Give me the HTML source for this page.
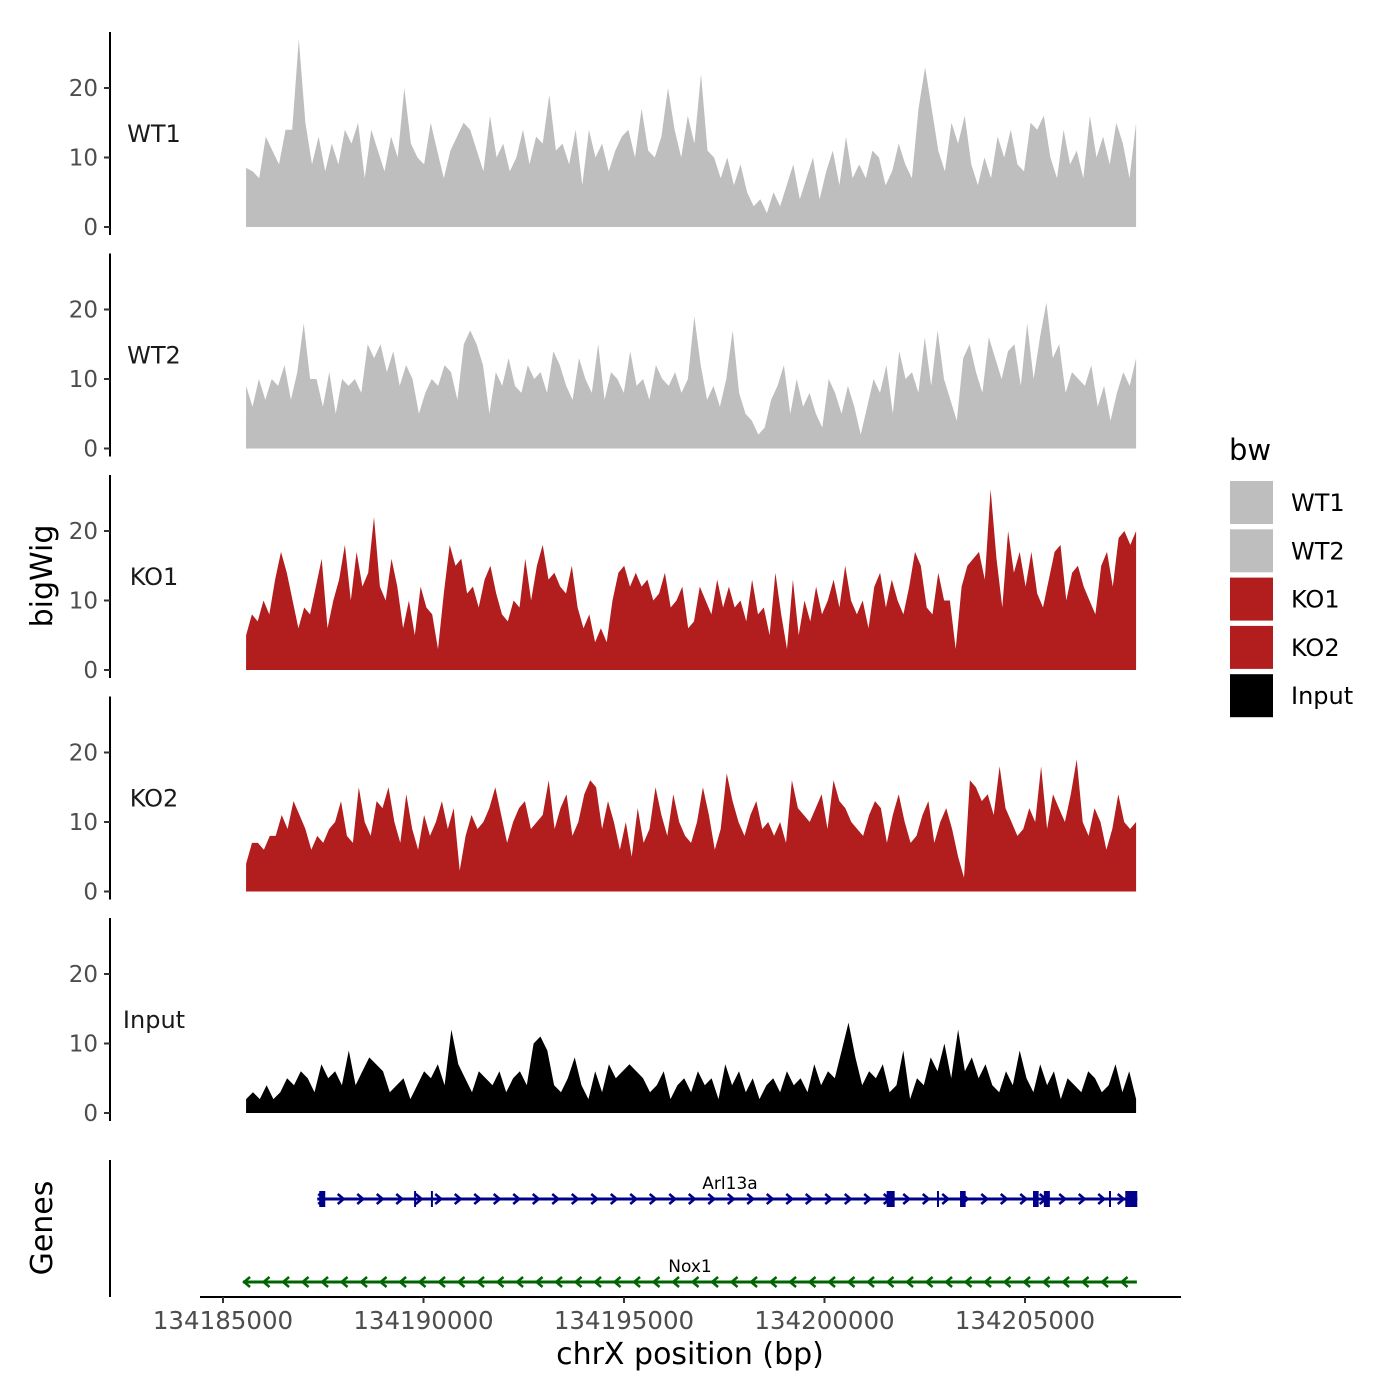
<!DOCTYPE html>
<html><head><meta charset="utf-8"><style>
body{margin:0;background:#fff}
svg{display:block;font-family:"DejaVu Sans","Liberation Sans",sans-serif}
</style></head><body>
<svg id="chart" width="1400" height="1400" viewBox="0 0 1400 1400" xmlns="http://www.w3.org/2000/svg"></svg>
<script>
const trackNames = ["WT1","WT2","KO1","KO2","Input"];
const trackColors = ["#bebebe","#bebebe","#b21e1e","#b21e1e","#000000"];
const wt1Values = [8.5,8,7,13,11,9,14,14,27,15,9,13,8,12,9,14,12,15,7,14,11,8,13,10,20,12,10,9,15,11,7,11,13,15,14,11,8,16,10,12,8,10,14,9,13,12,19,11,12,9,14,6,14,10,12,8,11,13,14,10,17,11,10,13,20,14,10,16,12,22,11,10,7,10,6,9,5,3,4,2,5,3,6,9,4,7,10,4,8,11,6,13,7,9,7,11,10,6,8,12,9,7,17,23,17,11,8,15,12,16,9,6,10,7,13,10,14,9,8,15,14,16,10,7,14,9,11,7,16,10,13,9,15,12,7,15];
const wt2Values = [9,6,10,7,10,9,12,7,11,18,10,10,6,11,5,10,9,10,8,15,13,15,11,14,9,12,10,5,8,10,9,12,11,7,15,17,15,12,5,11,9,13,9,8,12,10,11,8,14,12,9,7,13,10,8,15,7,11,10,8,14,9,10,7,12,10,9,11,8,10,19,12,7,9,6,10,17,8,5,4,2,3,7,9,12,5,10,6,8,5,3,10,8,5,9,6,2,6,10,8,12,5,14,10,11,8,16,9,17,10,7,4,13,15,11,8,16,13,10,14,15,9,18,10,16,21,13,15,8,11,10,9,12,6,9,4,8,11,9,13];
const ko1Values = [5,8,7,10,8,13,17,14,10,6,9,8,12,16,6,10,13,18,10,17,12,14,22,12,10,16,12,6,10,5,12,9,8,3,11,18,15,16,11,12,9,13,15,11,8,7,10,9,16,10,15,18,13,14,12,11,15,9,6,8,4,6,4,10,14,15,12,14,12,13,10,11,14,9,10,12,6,7,12,10,8,13,9,12,9,10,7,13,8,9,5,14,8,3,13,5,10,7,12,8,10,13,9,15,10,8,10,6,12,14,9,13,10,8,12,17,15,9,8,14,10,10,3,12,15,16,17,13,26,16,9,20,14,17,12,17,11,9,13,17,18,10,14,15,12,10,8,15,17,12,19,20,18,20];
const ko2Values = [4,7,7,6,8,8,11,9,13,11,9,6,8,7,9,10,13,8,7,15,10,8,13,12,15,10,7,14,9,6,11,8,10,13,9,12,3,8,11,9,10,12,15,11,7,10,12,13,9,10,11,16,9,12,14,8,10,14,16,15,9,13,10,6,10,5,12,7,9,15,11,8,14,10,8,7,10,15,11,6,9,17,13,10,8,11,13,9,10,8,10,7,16,12,11,10,12,14,9,16,13,12,10,9,8,11,13,12,7,11,14,10,7,8,11,13,7,10,12,9,5,2,16,15,13,14,11,18,12,10,8,9,12,10,18,9,14,12,10,14,19,10,8,12,10,6,9,14,10,9,10];
const inputValues = [2,3,2,4,2,3,5,4,6,5,3,7,5,6,4,9,4,6,8,7,6,3,4,5,2,4,6,5,7,4,12,7,5,3,6,5,4,6,3,5,6,4,10,11,9,4,3,5,8,4,2,6,3,7,5,6,7,6,5,3,4,6,2,4,5,3,6,4,5,2,7,4,6,3,5,2,4,5,3,6,4,5,3,7,4,6,5,9,13,8,4,6,5,7,3,4,9,2,5,4,8,6,10,5,12,6,8,5,7,4,3,6,4,9,5,3,7,4,6,2,5,4,3,6,5,3,4,7,3,6,2];
const yTicks = [0,10,20];
const xTicks = [134185000,134190000,134195000,134200000,134205000];
const dataStart = 134185575, dataEnd = 134207770;
const arlExons = [[134187400,134187550],[134201550,134201750],[134203380,134203520],[134205200,134205340],[134205470,134205620],[134207500,134207800]];
const arlMarks = [134189790,134190210,134202830,134207120];
const arlRange = [134187350,134207800];
const noxRange = [134185500,134207790];

const svg = document.getElementById('chart');
const NS = "http://www.w3.org/2000/svg";
function mk(tag, attrs, parent){const e=document.createElementNS(NS,tag);for(const k in attrs)e.setAttribute(k,attrs[k]);(parent||svg).appendChild(e);return e;}
const xs = bp => 223 + (bp-134185000)*(802/20000);
const zeros = [227,448.5,670,891.5,1113];
const ys = (i,v) => zeros[i] - v*6.95;
const allVals=[wt1Values,wt2Values,ko1Values,ko2Values,inputValues];

for(let i=0;i<5;i++){
  const g=mk('g',{});
  
  
  const vals=allVals[i];
  const x0=xs(dataStart), x1=xs(dataEnd);
  let d='M'+x0+','+zeros[i];
  vals.forEach((v,j)=>{const bp=dataStart+(dataEnd-dataStart)*j/(vals.length-1);d+=' L'+xs(bp).toFixed(1)+','+ys(i,v).toFixed(1);});
  d+=' L'+x1+','+zeros[i]+' Z';
  const p=mk('path',{d:d,fill:trackColors[i]},g);
  
  
  const ax=mk('line',{x1:110,x2:110,y1:zeros[i]-195,y2:zeros[i]+8,stroke:'#000','stroke-width':2},g);
  
  
  yTicks.forEach(t=>{
    const y=ys(i,t);
    mk('line',{x1:104,x2:110,y1:y,y2:y,stroke:'#333','stroke-width':2},g);
    const tx=mk('text',{x:98,y:y+8,'text-anchor':'end','font-size':23,fill:'#4d4d4d'},g);
    tx.textContent=t;
    
    
  });
  const lb=mk('text',{x:154,y:zeros[i]-85,'text-anchor':'middle','font-size':24,fill:'#1a1a1a'},g);
  lb.textContent=trackNames[i];
  
  
}
const yt=mk('text',{x:0,y:0,transform:'translate(52,576) rotate(-90)','text-anchor':'middle','font-size':30,fill:'#000'});
yt.textContent='bigWig';


const gt=mk('text',{x:0,y:0,transform:'translate(52,1228) rotate(-90)','text-anchor':'middle','font-size':30,fill:'#000'});
gt.textContent='Genes';


const gl=mk('line',{x1:110,x2:110,y1:1160,y2:1297,stroke:'#000','stroke-width':2});


const xl=mk('line',{x1:200,x2:1181,y1:1297,y2:1297,stroke:'#000','stroke-width':2});


xTicks.forEach(t=>{
  const x=xs(t);
  mk('line',{x1:x,x2:x,y1:1297,y2:1303,stroke:'#333','stroke-width':2});
  const tx=mk('text',{x:x,y:1329,'text-anchor':'middle','font-size':24.5,fill:'#4d4d4d'});
  tx.textContent=t;
  
  
});
const xt=mk('text',{x:690,y:1364,'text-anchor':'middle','font-size':30,fill:'#000'});
xt.textContent='chrX position (bp)';


function gene(name,range,y,color,dir,labelX){
  const g=mk('g',{});
  
  
  const a=xs(range[0]),b=xs(range[1]);
  mk('line',{x1:a,x2:b,y1:y,y2:y,stroke:color,'stroke-width':3},g);
  for(let x=a+4;x<b-4;x+=19.5){
    const d=dir>0?`M${x-3},${y-5} L${x+3},${y} L${x-3},${y+5}`:`M${x+3},${y-5} L${x-3},${y} L${x+3},${y+5}`;
    mk('path',{d:d,fill:'none',stroke:color,'stroke-width':2.5},g);
  }
  const t=mk('text',{x:labelX,y:y-10,'text-anchor':'middle','font-size':17,fill:'#000'},g);
  t.textContent=name;
  
  
  return g;
}
const ag=gene('Arl13a',arlRange,1199,'#00008b',1,730);
arlExons.forEach(e=>{const a=xs(e[0]),b=xs(e[1]);const r=mk('rect',{x:a,y:1191,width:Math.max(b-a,5),height:16,fill:'#00008b'},ag);});
arlMarks.forEach(m=>{const x=xs(m);mk('line',{x1:x,x2:x,y1:1191,y2:1207,stroke:'#00008b','stroke-width':2},ag);});
gene('Nox1',noxRange,1282,'#006400',-1,690);
const lg=mk('g',{});


const ltt=mk('text',{x:1229,y:460,'font-size':29,fill:'#000'},lg);
ltt.textContent='bw';


trackNames.forEach((n,i)=>{
  const y=481+i*48.3;
  const r=mk('rect',{x:1230,y:y,width:43,height:43,fill:trackColors[i]},lg);
  
  
  const t=mk('text',{x:1291,y:y+30,'font-size':24,fill:'#000'},lg);
  t.textContent=n;
  
  
});
</script>
</body></html>
